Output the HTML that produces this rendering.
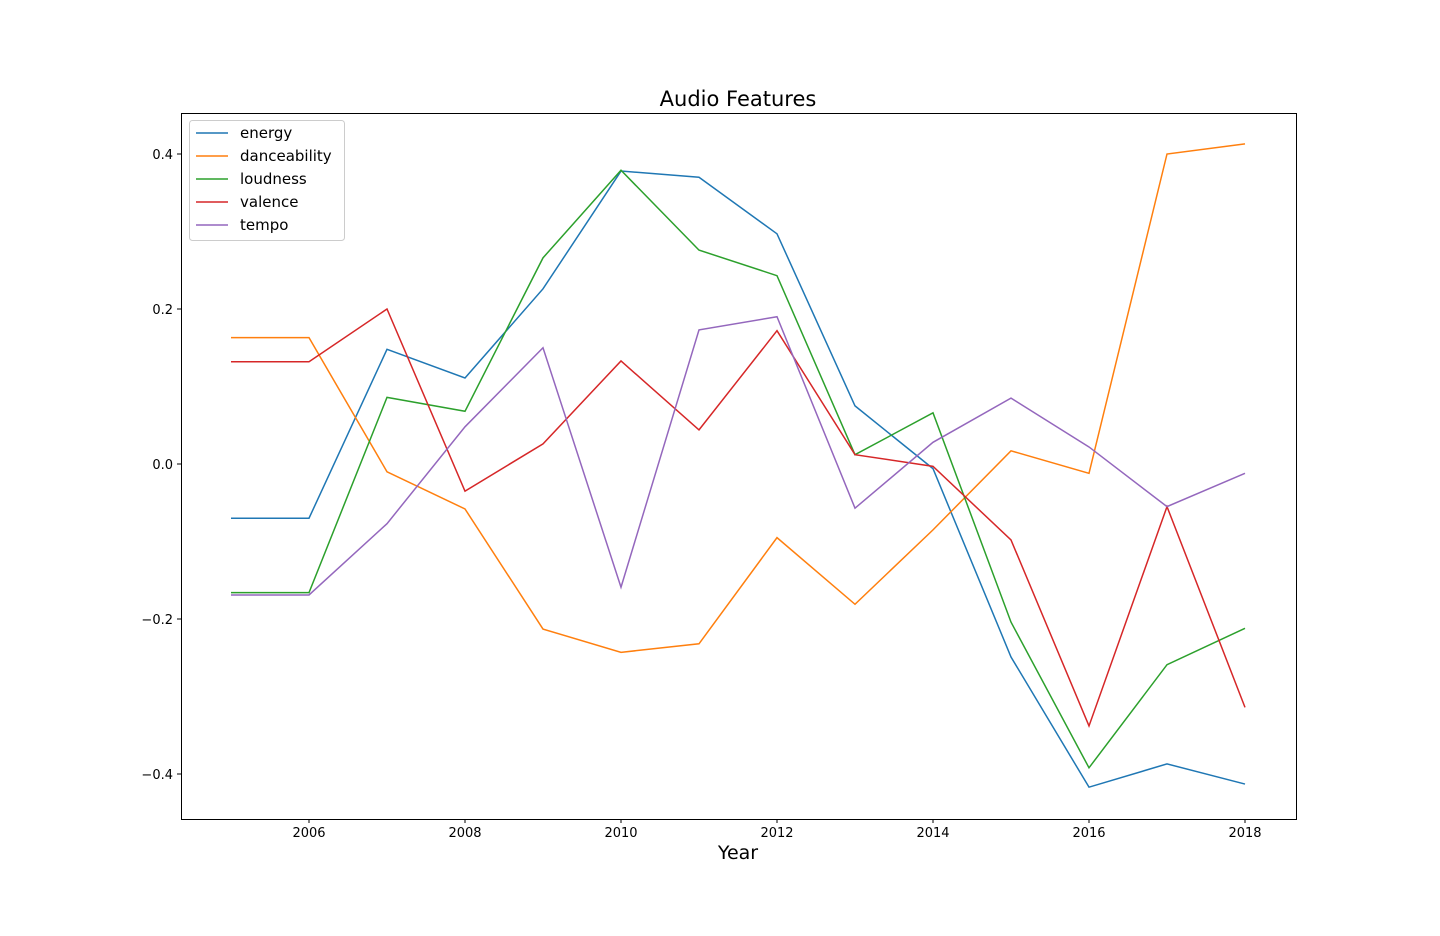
<!DOCTYPE html>
<html><head><meta charset="utf-8">
<style>
html,body{margin:0;padding:0;background:#fff;}
svg{display:block;font-family:"DejaVu Sans","Liberation Sans",sans-serif;}
</style></head>
<body>
<svg id="chart" width="1440" height="936" xmlns="http://www.w3.org/2000/svg"></svg>
<script>
const years = [2005,2006,2007,2008,2009,2010,2011,2012,2013,2014,2015,2016,2017,2018];
const energy = [-0.070,-0.070,0.148,0.111,0.226,0.378,0.370,0.297,0.075,-0.006,-0.249,-0.417,-0.387,-0.413];
const danceability = [0.163,0.163,-0.010,-0.058,-0.213,-0.243,-0.232,-0.095,-0.181,-0.085,0.017,-0.012,0.400,0.413];
const loudness = [-0.166,-0.166,0.086,0.068,0.266,0.379,0.276,0.243,0.012,0.066,-0.204,-0.392,-0.259,-0.212];
const valence = [0.132,0.132,0.200,-0.035,0.026,0.133,0.044,0.172,0.012,-0.003,-0.098,-0.338,-0.055,-0.314];
const tempo = [-0.169,-0.169,-0.077,0.048,0.150,-0.159,0.173,0.190,-0.057,0.028,0.085,0.022,-0.055,-0.012];
const seriesNames = ["energy","danceability","loudness","valence","tempo"];
const seriesColors = ["#1f77b4","#ff7f0e","#2ca02c","#d62728","#9467bd"];
const xTicks = [2006,2008,2010,2012,2014,2016,2018];
const yTicks = [0.4,0.2,0.0,-0.2,-0.4];
const yTickLabels = ["0.4","0.2","0.0","\u22120.2","\u22120.4"];

const NS = "http://www.w3.org/2000/svg";
const svg = document.getElementById("chart");
const L=181,R=1296,T=113,B=819;
const xs = y => 309 + (y-2006)*78;
const ys = v => 464 - v*775;
function mk(tag, attrs, parent){const e=document.createElementNS(NS,tag);for(const k in attrs)e.setAttribute(k,attrs[k]);(parent||svg).appendChild(e);return e;}

const title = mk("text",{x:738,y:106,"text-anchor":"middle","font-size":"21"});
title.textContent="Audio Features";



const xt = mk("text",{x:738,y:859,"text-anchor":"middle","font-size":"19"});
xt.textContent="Year";



xTicks.forEach(t=>{
  const g=mk("g",{});
  
  
  mk("line",{x1:xs(t),x2:xs(t),y1:B,y2:B+4,stroke:"#000","stroke-width":1},g);
  const tx=mk("text",{x:xs(t),y:B+18,"text-anchor":"middle","font-size":"13"},g);tx.textContent=t;
});
yTicks.forEach((t,i)=>{
  const g=mk("g",{});
  
  
  mk("line",{x1:L-4,x2:L,y1:ys(t),y2:ys(t),stroke:"#000","stroke-width":1},g);
  const tx=mk("text",{x:L-8,y:ys(t)+5,"text-anchor":"end","font-size":"13"},g);tx.textContent=yTickLabels[i];
});

const data=[energy,danceability,loudness,valence,tempo];
data.forEach((arr,si)=>{
  const p=mk("polyline",{points:arr.map((v,i)=>xs(years[i])+","+ys(v)).join(" "),fill:"none",stroke:seriesColors[si],"stroke-width":1.5});
  
  
});

const frame=mk("rect",{x:L+0.5,y:T+0.5,width:R-L,height:B-T,fill:"none",stroke:"#000","stroke-width":1});



const lg=mk("g",{});


mk("rect",{x:189.5,y:120.5,width:155,height:120,rx:3,fill:"#fff","fill-opacity":0.8,stroke:"#ccc"},lg);
seriesNames.forEach((n,i)=>{
  const e=mk("g",{},lg);
  
  
  const y=133+i*23;
  mk("line",{x1:196,x2:228,y1:y,y2:y,stroke:seriesColors[i],"stroke-width":1.5},e);
  const t=mk("text",{x:240,y:y+5,"font-size":"15"},e);t.textContent=n;
});
</script>
</body></html>
